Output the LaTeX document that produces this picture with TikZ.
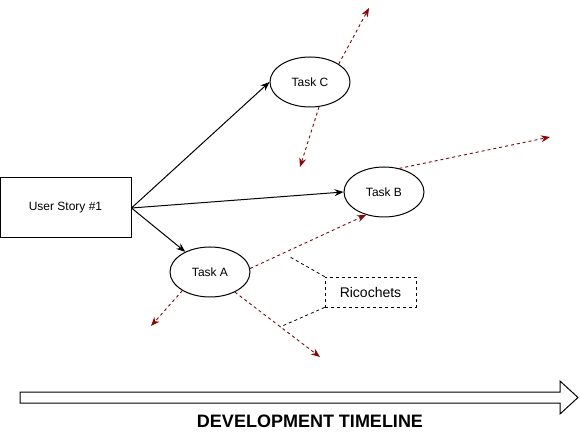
\documentclass[tikz,border=0pt]{standalone}
\usepackage{fontspec}
\setmainfont{Liberation Sans}
\usetikzlibrary{shapes.geometric,arrows.meta}
\definecolor{ricred}{HTML}{990000}
\tikzset{
  task/.style={draw, ellipse, line width=1pt, minimum width=80pt, minimum height=50pt, inner sep=0pt, font=\fontsize{12}{14}\selectfont},
  story/.style={draw, rectangle, line width=1pt, minimum width=131pt, minimum height=60pt, inner sep=0pt, font=\fontsize{12}{14}\selectfont},
  ricbox/.style={draw, rectangle, line width=0.8pt, dash pattern=on 3pt off 3pt, minimum width=91pt, minimum height=30pt, inner sep=0pt, font=\fontsize{14}{16}\selectfont},
  link/.style={draw, line width=1pt, -{Stealth[length=9pt,width=7pt]}},
  rico/.style={draw=ricred, line width=0.9pt, dash pattern=on 3pt off 3pt, -{Stealth[length=9pt,width=7pt]}},
  ricline/.style={draw, line width=0.8pt, dash pattern=on 3pt off 3pt},
}
\begin{document}
\begin{tikzpicture}[x=1pt, y=-1pt]
\useasboundingbox (0,0) rectangle (581,438);
\node[story] (us) at (65.5,208) {User Story \#1};
\node[task] (tc) at (310,82) {Task C};
\node[task] (tb) at (384,192) {Task B};
\node[task] (ta) at (210,272) {Task A};
\node[ricbox] (ric) at (370.5,292) {Ricochets};

\draw[link] (us.east) -- (tc.west);
\draw[link] (us.east) -- (tb.west);
\draw[link] (us.east) -- (ta);

\coordinate (c1) at (369,8);
\coordinate (c2) at (300,167);
\coordinate (b1) at (550,137);
\coordinate (a1) at (151,326);
\coordinate (a2) at (320,357);
\draw[rico] (tc.32) -- (c1);
\draw[rico] (tc.290) -- (c2);
\draw[rico] (tb.57) -- (b1);
\draw[rico] (ta.5) -- (tb.232);
\draw[rico] (ta.214) -- (a1);
\draw[rico] (ta.321) -- (a2);

\coordinate (r1) at (290,257);
\coordinate (r2) at (280,327);
\draw[ricline] (ric.north west) -- (r1);
\draw[ricline] (ric.south west) -- (r2);

\draw[line width=1pt, fill=white] (20,392) -- (560,392) -- (560,381) -- (578,397.5) -- (560,414) -- (560,403) -- (20,403) -- cycle;
\node[font=\fontsize{18}{21}\selectfont\bfseries] (tl) at (310,421.5) {DEVELOPMENT TIMELINE};
\end{tikzpicture}
\end{document}
